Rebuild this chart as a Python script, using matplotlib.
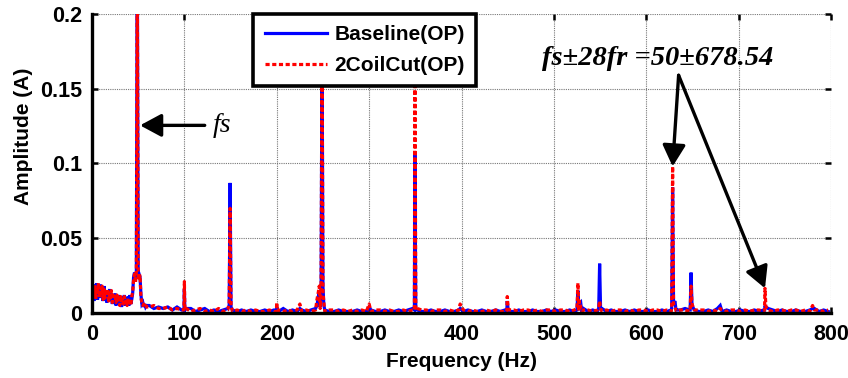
import numpy as np
import matplotlib
matplotlib.use("Agg")
import matplotlib.pyplot as plt
from matplotlib.ticker import FixedLocator, FuncFormatter

# ---------------------------------------------------------------------------
# Spectrum data (frequency in Hz, amplitude in A)
# ---------------------------------------------------------------------------
# Low-frequency region, 1 Hz resolution (0..59 Hz), including the fs peak
low_freq = list(range(0, 60))
baseline_low = [
    0.012, 0.018, 0.008, 0.019, 0.011, 0.020, 0.009, 0.017, 0.013, 0.019,
    0.010, 0.016, 0.008, 0.018, 0.012, 0.015, 0.007, 0.014, 0.011, 0.016,
    0.008, 0.013, 0.006, 0.012, 0.009, 0.013, 0.005, 0.011, 0.008, 0.012,
    0.006, 0.010, 0.004, 0.011, 0.007, 0.012, 0.005, 0.010, 0.006, 0.011,
    0.005, 0.012, 0.006, 0.009, 0.013, 0.024, 0.027, 0.022, 0.026, 0.250,
    0.025, 0.026, 0.024, 0.012, 0.006, 0.007, 0.004, 0.006, 0.004, 0.005,
]
coilcut_low = [
    0.008, 0.016, 0.011, 0.019, 0.009, 0.017, 0.012, 0.020, 0.010, 0.015,
    0.013, 0.018, 0.009, 0.016, 0.010, 0.014, 0.012, 0.016, 0.008, 0.013,
    0.010, 0.015, 0.007, 0.012, 0.010, 0.011, 0.007, 0.012, 0.009, 0.010,
    0.005, 0.011, 0.008, 0.009, 0.006, 0.011, 0.007, 0.009, 0.005, 0.010,
    0.007, 0.009, 0.005, 0.011, 0.014, 0.022, 0.026, 0.020, 0.027, 0.240,
    0.024, 0.022, 0.025, 0.010, 0.007, 0.005, 0.006, 0.004, 0.005, 0.004,
]

# Noise floor, 5 Hz resolution (62..797 Hz)
floor_freq = list(range(62, 800, 5))
baseline_floor = [
    0.005, 0.003, 0.004, 0.003, 0.004, 0.002, 0.004, 0.002, 0.003, 0.003,
    0.001, 0.002, 0.003, 0.001, 0.002, 0.001, 0.002, 0.003, 0.002, 0.001,
    0.002, 0.001, 0.002, 0.001, 0.001, 0.002, 0.001, 0.002, 0.001, 0.003,
    0.001, 0.002, 0.001, 0.002, 0.001, 0.002, 0.003, 0.004, 0.002, 0.001,
    0.001, 0.002, 0.001, 0.001, 0.001, 0.002, 0.001, 0.001, 0.002, 0.001,
    0.001, 0.002, 0.001, 0.001, 0.002, 0.001, 0.002, 0.003, 0.002, 0.001,
    0.001, 0.002, 0.001, 0.001, 0.002, 0.001, 0.001, 0.002, 0.001, 0.002,
    0.001, 0.001, 0.002, 0.001, 0.001, 0.002, 0.001, 0.002, 0.001, 0.001,
    0.002, 0.001, 0.001, 0.002, 0.001, 0.001, 0.002, 0.001, 0.002, 0.001,
    0.001, 0.002, 0.001, 0.002, 0.003, 0.001, 0.002, 0.001, 0.003, 0.001,
    0.002, 0.001, 0.001, 0.002, 0.001, 0.002, 0.001, 0.001, 0.002, 0.001,
    0.001, 0.002, 0.001, 0.002, 0.003, 0.002, 0.003, 0.002, 0.002, 0.001,
    0.001, 0.002, 0.001, 0.003, 0.001, 0.002, 0.001, 0.001, 0.002, 0.001,
    0.001, 0.002, 0.001, 0.002, 0.003, 0.002, 0.001, 0.002, 0.001, 0.001,
    0.002, 0.001, 0.001, 0.002, 0.003, 0.001, 0.002, 0.001,
]
coilcut_floor = [
    0.004, 0.005, 0.003, 0.003, 0.004, 0.002, 0.003, 0.002, 0.003, 0.001,
    0.002, 0.003, 0.001, 0.002, 0.001, 0.003, 0.001, 0.002, 0.001, 0.002,
    0.001, 0.002, 0.001, 0.002, 0.001, 0.001, 0.002, 0.001, 0.002, 0.001,
    0.002, 0.001, 0.002, 0.001, 0.002, 0.001, 0.002, 0.003, 0.001, 0.002,
    0.002, 0.001, 0.002, 0.001, 0.002, 0.001, 0.002, 0.001, 0.001, 0.002,
    0.002, 0.001, 0.002, 0.001, 0.001, 0.002, 0.001, 0.002, 0.003, 0.002,
    0.002, 0.001, 0.002, 0.002, 0.001, 0.002, 0.001, 0.002, 0.002, 0.001,
    0.002, 0.001, 0.001, 0.002, 0.001, 0.002, 0.001, 0.001, 0.002, 0.002,
    0.001, 0.002, 0.002, 0.001, 0.002, 0.001, 0.002, 0.002, 0.001, 0.002,
    0.002, 0.001, 0.002, 0.001, 0.002, 0.002, 0.001, 0.002, 0.001, 0.002,
    0.001, 0.002, 0.002, 0.001, 0.002, 0.001, 0.002, 0.002, 0.001, 0.002,
    0.002, 0.001, 0.002, 0.001, 0.002, 0.002, 0.002, 0.001, 0.002, 0.002,
    0.002, 0.001, 0.002, 0.001, 0.002, 0.001, 0.002, 0.002, 0.001, 0.002,
    0.001, 0.002, 0.002, 0.001, 0.002, 0.001, 0.002, 0.002, 0.001, 0.002,
    0.002, 0.001, 0.002, 0.001, 0.002, 0.002, 0.001, 0.002,
]

# Harmonic and sideband components
peak_freq = [
    99.5, 100.0, 100.5,
    148.5, 149.5, 150.5,
    199.5, 200.0, 200.5, 225.0,
    243.5, 245.0, 246.0, 248.0, 249.0, 250.0, 251.0,
    300.0, 349.0, 349.5, 350.5,
    398.5, 449.0, 449.5, 450.5,
    525.0, 526.0, 527.5, 529.0, 530.0,
    548.5, 549.5, 550.5,
    627.5, 628.5, 629.5, 631.0, 632.5,
    647.5, 648.5, 649.5, 680.0,
    728.0, 728.5, 729.5, 780.0,
]
baseline_peak = [
    0.002, 0.016, 0.002,
    0.005, 0.087, 0.004,
    0.001, 0.004, 0.001, 0.003,
    0.005, 0.011, 0.015, 0.019, 0.185, 0.018, 0.005,
    0.004, 0.002, 0.107, 0.003,
    0.003, 0.001, 0.008, 0.002,
    0.002, 0.015, 0.006, 0.007, 0.001,
    0.003, 0.033, 0.003,
    0.003, 0.084, 0.006, 0.008, 0.002,
    0.002, 0.027, 0.005, 0.005,
    0.001, 0.005, 0.004, 0.003,
]
coilcut_peak = [
    0.002, 0.021, 0.002,
    0.007, 0.070, 0.005,
    0.001, 0.007, 0.001, 0.006,
    0.009, 0.014, 0.018, 0.016, 0.190, 0.014, 0.007,
    0.006, 0.002, 0.190, 0.002,
    0.006, 0.001, 0.011, 0.003,
    0.003, 0.020, 0.008, 0.004, 0.001,
    0.004, 0.008, 0.003,
    0.003, 0.098, 0.006, 0.004, 0.001,
    0.002, 0.018, 0.006, 0.003,
    0.002, 0.0165, 0.004, 0.005,
]

x_ticks = [0, 100, 200, 300, 400, 500, 600, 700, 800]
y_ticks = [0, 0.05, 0.1, 0.15, 0.2]


def assemble(*parts):
    f = np.concatenate([np.asarray(p[0], float) for p in parts])
    a = np.concatenate([np.asarray(p[1], float) for p in parts])
    order = np.argsort(f, kind="stable")
    return f[order], a[order]


f_base, a_base = assemble((low_freq, baseline_low), (floor_freq, baseline_floor),
                          (peak_freq, baseline_peak))
f_cut, a_cut = assemble((low_freq, coilcut_low), (floor_freq, coilcut_floor),
                        (peak_freq, coilcut_peak))

# ---------------------------------------------------------------------------
# Figure
# ---------------------------------------------------------------------------
plt.rcParams["font.family"] = ["Liberation Sans", "DejaVu Sans"]
plt.rcParams["font.weight"] = "bold"

fig = plt.figure(figsize=(8.48, 3.78), dpi=100)
ax = fig.add_axes([0.1085, 0.172, 0.8715, 0.791])

ax.plot(f_base, a_base, color="#0000ff", lw=2.3, solid_joinstyle="miter",
        label="Baseline(OP)", zorder=3)
ax.plot(f_cut, a_cut, color="#ff0000", lw=2.3, linestyle=(0, (1.3, 0.8)),
        label="2CoilCut(OP)", zorder=4)

ax.set_xlim(0, 800)
ax.set_ylim(0, 0.2)
ax.xaxis.set_major_locator(FixedLocator(x_ticks))
ax.yaxis.set_major_locator(FixedLocator(y_ticks))
ax.yaxis.set_major_formatter(FuncFormatter(lambda v, p: f"{v:g}"))

ax.grid(True, color="#777777", linestyle=(0, (1, 1)), lw=0.8, zorder=1)
ax.set_axisbelow(True)

for side in ("top", "right"):
    ax.spines[side].set_visible(False)
for side in ("left", "bottom"):
    ax.spines[side].set_linewidth(2.4)
    ax.spines[side].set_zorder(6)

ax.tick_params(axis="both", which="major", direction="in", length=4, width=1.8,
               top=True, right=True, labelsize=15.5, color="black")
ax.tick_params(axis="x", pad=8)
ax.tick_params(axis="y", pad=7)
for lbl in ax.get_xticklabels() + ax.get_yticklabels():
    lbl.set_fontweight("bold")

ax.set_xlabel("Frequency (Hz)", fontsize=15, fontweight="bold", labelpad=5)
ax.set_ylabel("Amplitude (A)", fontsize=15, fontweight="bold")
ax.yaxis.set_label_coords(-0.08, 0.59)

leg = ax.legend(loc="upper left", bbox_to_anchor=(0.218, 1.0), borderaxespad=0,
                fancybox=False, framealpha=1, edgecolor="black",
                prop={"size": 15, "weight": "bold"}, handlelength=3.0,
                handletextpad=0.35, labelspacing=0.55, borderpad=0.55)
leg.get_frame().set_linewidth(2.6)
leg.set_zorder(10)

arrow_style = "-|>,head_length=1.3,head_width=0.7"

# Annotations
ax.annotate("", xy=(52, 0.1255), xytext=(122, 0.1255),
            arrowprops=dict(arrowstyle=arrow_style, mutation_scale=10,
                            color="black", lw=2.4, shrinkA=0, shrinkB=0),
            zorder=8)
ax.text(131, 0.1255, "fs", fontsize=20, style="italic", fontweight="normal",
        family="Liberation Serif", va="center", ha="left", zorder=8)

ax.text(612, 0.170, "fs±28fr =50±678.54", fontsize=20.5, style="italic",
        fontweight="bold", family="Liberation Serif", va="center", ha="center",
        zorder=8)
for tip in [(628.5, 0.098), (728.5, 0.0165)]:
    ax.annotate("", xy=tip, xytext=(635, 0.159),
                arrowprops=dict(arrowstyle=arrow_style, mutation_scale=10,
                                color="black", lw=2.4, shrinkA=0, shrinkB=0),
                zorder=8)

fig.savefig("out.png", dpi=100)
